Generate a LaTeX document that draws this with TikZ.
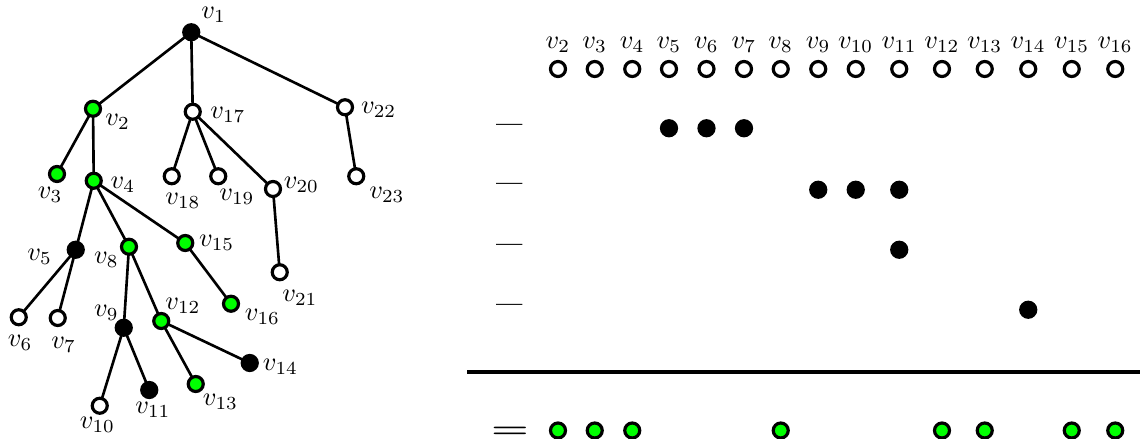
\documentclass[tikz,border=0pt]{standalone}
\usepackage{amssymb,amsmath}
\usepackage{tikz}
\usepackage{tikz-network}

\SetVertexStyle[LineColor=black,LineWidth=1.2pt,FillColor=white]
\SetEdgeStyle[LineWidth=1pt,Color=black]

\begin{document}
\begin{tikzpicture}
        \useasboundingbox (0,0) rectangle (15.2,-5.853);

        % tree
        \Vertex[size=.2,x=2.55,y=-.43,color=black]{v1}
        \Vertex[size=.2,x=1.24,y=-1.45,color=green]{v2}
        \Vertex[size=.2,x=2.57,y=-1.49]{v17}
        \Vertex[size=.2,x=4.6,y=-1.43]{v22}
        \Vertex[size=.2,x=.76,y=-2.32,color=green]{v3}
        \Vertex[size=.2,x=1.25,y=-2.41,color=green]{v4}
        \Vertex[size=.2,x=2.29,y=-2.35]{v18}
        \Vertex[size=.2,x=2.91,y=-2.35]{v19}
        \Vertex[size=.2,x=3.64,y=-2.52]{v20}
        \Vertex[size=.2,x=4.75,y=-2.35]{v23}
        \Vertex[size=.2,x=1.01,y=-3.33,color=black]{v5}
        \Vertex[size=.2,x=1.72,y=-3.29,color=green]{v8}
        \Vertex[size=.2,x=2.47,y=-3.24,color=green]{v15}
        \Vertex[size=.2,x=3.73,y=-3.63]{v21}
        \Vertex[size=.2,x=.25,y=-4.23]{v6}
        \Vertex[size=.2,x=.77,y=-4.24]{v7}
        \Vertex[size=.2,x=1.65,y=-4.37,color=black]{v9}
        \Vertex[size=.2,x=2.15,y=-4.28,color=green]{v12}
        \Vertex[size=.2,x=3.08,y=-4.05,color=green]{v16}
        \Vertex[size=.2,x=3.33,y=-4.84,color=black]{v14}
        \Vertex[size=.2,x=2.61,y=-5.12,color=green]{v13}
        \Vertex[size=.2,x=1.99,y=-5.2,color=black]{v11}
        \Vertex[size=.2,x=1.33,y=-5.41]{v10}

        \Edge(v1)(v2)
        \Edge(v1)(v17)
        \Edge(v1)(v22)
        \Edge(v2)(v3)
        \Edge(v2)(v4)
        \Edge(v17)(v18)
        \Edge(v17)(v19)
        \Edge(v17)(v20)
        \Edge(v20)(v21)
        \Edge(v22)(v23)
        \Edge(v4)(v5)
        \Edge(v4)(v8)
        \Edge(v4)(v15)
        \Edge(v15)(v16)
        \Edge(v5)(v6)
        \Edge(v5)(v7)
        \Edge(v8)(v9)
        \Edge(v8)(v12)
        \Edge(v9)(v10)
        \Edge(v9)(v11)
        \Edge(v12)(v13)
        \Edge(v12)(v14)

        \node (l1) at (2.85,-.2) {$v_1$};
        \node (l2) at (1.57,-1.62) {$v_2$};
        \node (l17) at (3.04,-1.53) {$v_{17}$};
        \node (l22) at (5.05,-1.47) {$v_{22}$};
        \node (l3) at (.67,-2.6) {$v_3$};
        \node (l4) at (1.64,-2.46) {$v_4$};
        \node (l18) at (2.44,-2.68) {$v_{18}$};
        \node (l19) at (3.16,-2.62) {$v_{19}$};
        \node (l20) at (4.02,-2.47) {$v_{20}$};
        \node (l23) at (5.16,-2.6) {$v_{23}$};
        \node (l5) at (.53,-3.43) {$v_5$};
        \node (l8) at (1.42,-3.46) {$v_8$};
        \node (l15) at (2.89,-3.24) {$v_{15}$};
        \node (l21) at (4,-3.97) {$v_{21}$};
        \node (l6) at (.27,-4.57) {$v_6$};
        \node (l7) at (.85,-4.6) {$v_7$};
        \node (l9) at (1.42,-4.17) {$v_9$};
        \node (l12) at (2.44,-4.08) {$v_{12}$};
        \node (l16) at (3.5,-4.22) {$v_{16}$};
        \node (l14) at (3.74,-4.89) {$v_{14}$};
        \node (l13) at (2.94,-5.36) {$v_{13}$};
        \node (l11) at (2.04,-5.47) {$v_{11}$};
        \node (l10) at (1.3,-5.67) {$v_{10}$};

        % header row
        \Vertex[size=.2,x=7.44,y=-.92]{h2}
        \Vertex[size=.2,x=7.93,y=-.92]{h3}
        \Vertex[size=.2,x=8.43,y=-.92]{h4}
        \Vertex[size=.2,x=8.92,y=-.92]{h5}
        \Vertex[size=.2,x=9.42,y=-.92]{h6}
        \Vertex[size=.2,x=9.92,y=-.92]{h7}
        \Vertex[size=.2,x=10.41,y=-.92]{h8}
        \Vertex[size=.2,x=10.91,y=-.92]{h9}
        \Vertex[size=.2,x=11.41,y=-.92]{h10}
        \Vertex[size=.2,x=11.99,y=-.92]{h11}
        \Vertex[size=.2,x=12.56,y=-.92]{h12}
        \Vertex[size=.2,x=13.13,y=-.92]{h13}
        \Vertex[size=.2,x=13.71,y=-.92]{h14}
        \Vertex[size=.2,x=14.29,y=-.92]{h15}
        \Vertex[size=.2,x=14.87,y=-.92]{h16}

        \node (t2) at (7.44,-.6) {$v_2$};
        \node (t3) at (7.93,-.6) {$v_3$};
        \node (t4) at (8.43,-.6) {$v_4$};
        \node (t5) at (8.92,-.6) {$v_5$};
        \node (t6) at (9.42,-.6) {$v_6$};
        \node (t7) at (9.92,-.6) {$v_7$};
        \node (t8) at (10.41,-.6) {$v_8$};
        \node (t9) at (10.91,-.6) {$v_9$};
        \node (t10) at (11.41,-.6) {$v_{10}$};
        \node (t11) at (11.99,-.6) {$v_{11}$};
        \node (t12) at (12.56,-.6) {$v_{12}$};
        \node (t13) at (13.13,-.6) {$v_{13}$};
        \node (t14) at (13.71,-.6) {$v_{14}$};
        \node (t15) at (14.29,-.6) {$v_{15}$};
        \node (t16) at (14.87,-.6) {$v_{16}$};

        % subtracted rows
        \node (m1) at (6.8,-1.74) {\scalebox{1}[1.8]{\textemdash}};
        \node (m2) at (6.8,-2.53) {\scalebox{1}[1.8]{\textemdash}};
        \node (m3) at (6.8,-3.35) {\scalebox{1}[1.8]{\textemdash}};
        \node (m4) at (6.8,-4.15) {\scalebox{1}[1.8]{\textemdash}};

        \Vertex[size=.2,x=8.92,y=-1.71,color=black]{a5}
        \Vertex[size=.2,x=9.42,y=-1.71,color=black]{a6}
        \Vertex[size=.2,x=9.92,y=-1.71,color=black]{a7}
        \Vertex[size=.2,x=10.91,y=-2.53,color=black]{b9}
        \Vertex[size=.2,x=11.41,y=-2.53,color=black]{b10}
        \Vertex[size=.2,x=11.99,y=-2.53,color=black]{b11}
        \Vertex[size=.2,x=11.99,y=-3.33,color=black]{c11}
        \Vertex[size=.2,x=13.71,y=-4.13,color=black]{d14}

        \coordinate (L) at (6.23,-4.96);
        \coordinate (R) at (15.2,-4.96);
        \draw[line width=1.2pt] (L) -- (R);

        % result row
        \node (eq) at (6.8,-5.76) {\scalebox{1.6}[1]{\boldmath$=$}};
        \Vertex[size=.2,x=7.44,y=-5.74,color=green]{g2}
        \Vertex[size=.2,x=7.93,y=-5.74,color=green]{g3}
        \Vertex[size=.2,x=8.43,y=-5.74,color=green]{g4}
        \Vertex[size=.2,x=10.41,y=-5.74,color=green]{g8}
        \Vertex[size=.2,x=12.56,y=-5.74,color=green]{g12}
        \Vertex[size=.2,x=13.13,y=-5.74,color=green]{g13}
        \Vertex[size=.2,x=14.29,y=-5.74,color=green]{g15}
        \Vertex[size=.2,x=14.87,y=-5.74,color=green]{g16}
\end{tikzpicture}
\end{document}
